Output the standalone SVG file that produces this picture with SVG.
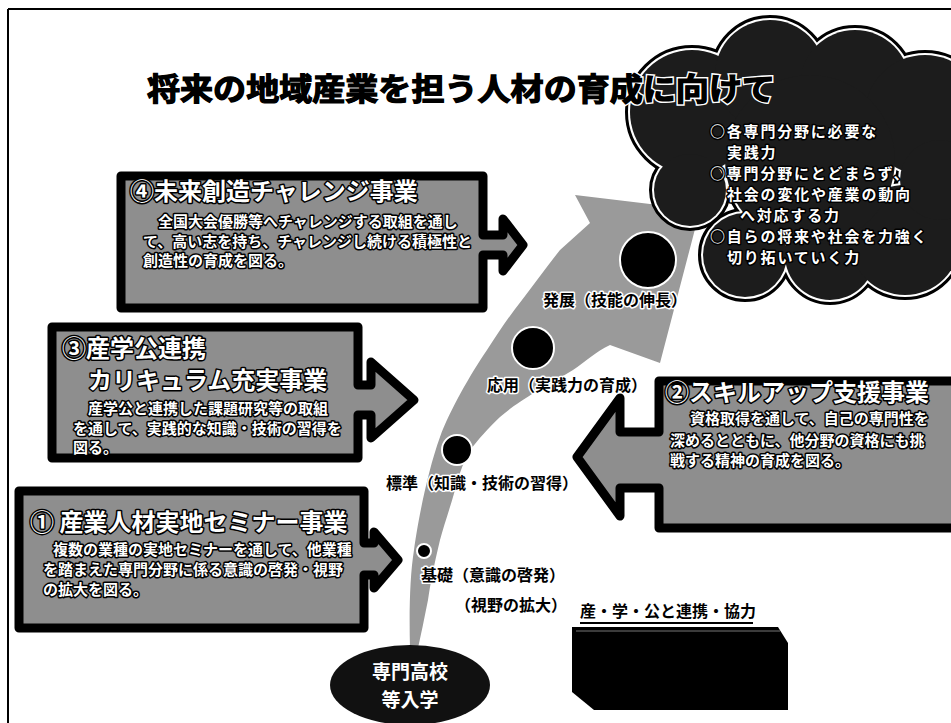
<svg xmlns="http://www.w3.org/2000/svg" width="951" height="723" viewBox="0 0 951 723">
<style>
.t{font-family:"Noto Sans CJK JP","Noto Sans CJK SC",sans-serif;font-weight:700}
.wt{fill:#fff;stroke:#000;stroke-width:3;paint-order:stroke;stroke-linejoin:round}
.bt{fill:#000;stroke:#fff;stroke-width:3;paint-order:stroke;stroke-linejoin:round}
.box{fill:#8e8e8e;stroke:#000;stroke-width:9;stroke-linejoin:round}
.c1{fill:#000;stroke:#000;stroke-width:10}
.c2{fill:#000;stroke:#fff;stroke-width:4}
.c3{fill:#1c1c1c}
.dot{fill:#000;stroke:#fff;stroke-width:2}
</style>
<rect width="951" height="723" fill="#fff"/>
<g id="frame" stroke="#000" stroke-width="2">
<line x1="8" y1="9" x2="951" y2="9"/>
<line x1="8" y1="9" x2="8" y2="723"/>
</g>

<g id="growth-arrow">
<path d="M410,648 C409,610 410,575 414,550 C418,520 428,470 440,437 C450,410 470,375 487,350 C500,330 510,315 522,300 C535,283 548,265 560,250 L590,223 L575,195 L700,210 L660,363 L610,345 C595,352 585,362 573,370 C560,378 548,385 535,392 C520,402 510,408 500,417 C488,428 478,440 470,450 C462,465 458,478 455,490 C450,508 444,525 440,540 C434,565 430,585 428,600 C424,620 421,635 418,648 Z" fill="#9a9a9a"/>
<circle class="dot" cx="424" cy="551" r="7"/>
<circle class="dot" cx="457" cy="450" r="15"/>
<circle class="dot" cx="533" cy="348" r="21"/>
<circle class="dot" cx="648" cy="260" r="28"/>
<text class="t bt" x="543" y="306" font-size="16">発展（技能の伸長）</text>
<text class="t bt" x="487" y="391" font-size="16">応用（実践力の育成）</text>
<text class="t bt" x="386" y="489" font-size="16">標準（知識・技術の習得）</text>
<text class="t bt" x="421" y="581" font-size="16">基礎（意識の啓発）</text>
<text class="t bt" x="455" y="611" font-size="16">（視野の拡大）</text>
</g>

<g id="cloud">
<g class="c1">
<circle cx="692" cy="112" r="62"/><circle cx="770" cy="75" r="55"/><circle cx="855" cy="85" r="55"/><circle cx="925" cy="115" r="60"/><circle cx="690" cy="190" r="36"/><circle cx="745" cy="255" r="42"/><circle cx="830" cy="255" r="45"/><circle cx="905" cy="240" r="55"/><circle cx="810" cy="160" r="85"/><circle cx="940" cy="180" r="40"/>
</g>
<g class="c2">
<circle cx="692" cy="112" r="62"/><circle cx="770" cy="75" r="55"/><circle cx="855" cy="85" r="55"/><circle cx="925" cy="115" r="60"/><circle cx="690" cy="190" r="36"/><circle cx="745" cy="255" r="42"/><circle cx="830" cy="255" r="45"/><circle cx="905" cy="240" r="55"/><circle cx="810" cy="160" r="85"/><circle cx="940" cy="180" r="40"/>
</g>
<g class="c3">
<circle cx="692" cy="112" r="62"/><circle cx="770" cy="75" r="55"/><circle cx="855" cy="85" r="55"/><circle cx="925" cy="115" r="60"/><circle cx="690" cy="190" r="36"/><circle cx="745" cy="255" r="42"/><circle cx="830" cy="255" r="45"/><circle cx="905" cy="240" r="55"/><circle cx="810" cy="160" r="85"/><circle cx="940" cy="180" r="40"/>
</g>
<g class="t wt" font-size="15" letter-spacing="1.8">
<text x="710" y="137">○各専門分野に必要な</text>
<text x="727" y="158">実践力</text>
<text x="710" y="179">○専門分野にとどまらず、</text>
<text x="727" y="200">社会の変化や産業の動向</text>
<text x="740" y="221">へ対応する力</text>
<text x="710" y="242">○自らの将来や社会を力強く</text>
<text x="727" y="263">切り拓いていく力</text>
</g>
</g>

<g id="title">
<text class="t" x="147" y="100" font-size="31" font-weight="900" fill="#000" stroke="#fff" stroke-width="4" paint-order="stroke" textLength="628" lengthAdjust="spacingAndGlyphs">将来の地域産業を担う人材の育成に向けて</text>
<text class="t" x="147" y="100" font-size="31" font-weight="900" fill="#000" stroke="#000" stroke-width="1.2" textLength="628" lengthAdjust="spacingAndGlyphs">将来の地域産業を担う人材の育成に向けて</text>
</g>

<g id="box4">
<path class="box" d="M121,176 H483 V235 H503 V219 L523,245 L503,271 V255 H483 V308 H121 Z"/>
<text class="t wt" x="130" y="200" font-size="24">④未来創造チャレンジ事業</text>
<text class="t wt" x="158" y="227" font-size="15">全国大会優勝等へチャレンジする取組を通し</text>
<text class="t wt" x="143" y="247" font-size="15">て、高い志を持ち、チャレンジし続ける積極性と</text>
<text class="t wt" x="143" y="266" font-size="15">創造性の育成を図る。</text>
</g>

<g id="box3">
<path class="box" d="M52,327 H358 V385 H371 V362 L414,400 L371,438 V415 H358 V458 H52 Z"/>
<text class="t wt" x="62" y="357" font-size="24">③産学公連携</text>
<text class="t wt" x="88" y="389" font-size="24">カリキュラム充実事業</text>
<text class="t wt" x="88" y="414" font-size="15">産学公と連携した課題研究等の取組</text>
<text class="t wt" x="73" y="434" font-size="15">を通して、実践的な知識・技術の習得を</text>
<text class="t wt" x="73" y="453" font-size="15">図る。</text>
</g>

<g id="box2">
<path class="box" d="M960,381 H659 V432 H620 V398 L577,457 L620,516 V488 H659 V528 H960 Z"/>
<text class="t wt" x="665" y="401" font-size="24">②スキルアップ支援事業</text>
<text class="t wt" x="690" y="424" font-size="15">資格取得を通して、自己の専門性を</text>
<text class="t wt" x="670" y="446" font-size="15">深めるとともに、他分野の資格にも挑</text>
<text class="t wt" x="670" y="466" font-size="15">戦する精神の育成を図る。</text>
</g>

<g id="box1">
<path class="box" d="M19,491 H364 V543 H374 V532 L398,560 L374,588 V575 H364 V628 H19 Z"/>
<text class="t wt" x="30" y="531" font-size="24">① 産業人材実地セミナー事業</text>
<text class="t wt" x="53" y="555" font-size="15">複数の業種の実地セミナーを通して、他業種</text>
<text class="t wt" x="43" y="575" font-size="15">を踏まえた専門分野に係る意識の啓発・視野</text>
<text class="t wt" x="43" y="595" font-size="15">の拡大を図る。</text>
</g>

<g id="entry">
<ellipse cx="410" cy="685" rx="80" ry="40" fill="#111"/>
<text class="t" x="410" y="679" font-size="19" fill="#fff" text-anchor="middle">専門高校</text>
<text class="t" x="410" y="707" font-size="19" fill="#fff" text-anchor="middle">等入学</text>
</g>

<g id="partner">
<text class="t" x="580" y="617" font-size="16" fill="#000">産・学・公と連携・協力</text>
<line x1="580" y1="623" x2="753" y2="623" stroke="#000" stroke-width="2"/>
<polygon points="572,627 778,627 788,643 788,710 594,710 572,692" fill="#000"/>
<line x1="576" y1="631" x2="780" y2="631" stroke="#777" stroke-width="1"/>
</g>
</svg>
